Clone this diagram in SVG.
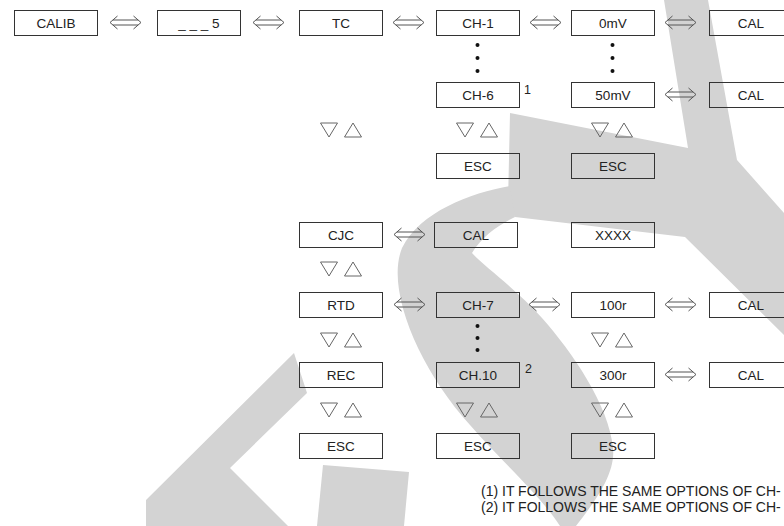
<svg xmlns="http://www.w3.org/2000/svg" xmlns:xlink="http://www.w3.org/1999/xlink" width="784" height="526" viewBox="0 0 784 526">
<style>
.box{fill:none;stroke:#333;stroke-width:1}
.t{font-family:"Liberation Sans",Arial,sans-serif;font-size:13.5px;fill:#222;text-anchor:middle}
.sup{font-family:"Liberation Sans",Arial,sans-serif;font-size:12.5px;fill:#222}
.note{font-family:"Liberation Sans",Arial,sans-serif;font-size:14px;fill:#222}
.arr{fill:none;stroke:#555;stroke-width:1}
.tri{fill:none;stroke:#666;stroke-width:1}
.dot{fill:#111}
.wm{fill:#d3d3d3}
</style>
<defs>
<path id="dbl" class="arr" d="M7.5,-6.5 L0,0 L7.5,6.5 M23.5,-6.5 L31,0 L23.5,6.5 M2.9,-2.5 H28.1 M2.9,2.5 H28.1"/>
<g id="ud"><path class="tri" d="M-20.5,0 H-3.5 L-12,14 Z M3.5,14 H20.5 L12,0 Z"/></g>
</defs>
<g id="watermark">
<path class="wm" d="M664,0 L708,0 L737,160 L784,213 L784,335 L685,237 L515,217 L508,203 L510,113 L688,148 Z"/>
<path class="wm" d="M510,186 C470,193 420,212 402,248 C385,290 420,370 470,425 C505,465 540,495 560,526 L576,526 C592,505 616,475 613,448 C609,405 572,352 542,318 C515,288 486,268 472,253 C482,236 500,224 515,217 Z"/>
<path class="wm" d="M146,526 L146,500 L294,353 L307,393 L230,468 L288,526 Z"/>
<path class="wm" d="M323,465 L409,472 L404,526 L317,526 Z"/>
</g>
<g id="connectors">
<use xlink:href="#dbl" transform="translate(110,22.5)"/>
<use xlink:href="#dbl" transform="translate(253,22.5)"/>
<use xlink:href="#dbl" transform="translate(393,22.5)"/>
<use xlink:href="#dbl" transform="translate(530,22.5)"/>
<use xlink:href="#dbl" transform="translate(665,22.5)"/>
<use xlink:href="#dbl" transform="translate(665,94.5)"/>
<use xlink:href="#dbl" transform="translate(394,234.5)"/>
<use xlink:href="#dbl" transform="translate(394,304.5)"/>
<use xlink:href="#dbl" transform="translate(529,304.5)"/>
<use xlink:href="#dbl" transform="translate(665,304.5)"/>
<use xlink:href="#dbl" transform="translate(665,374.5)"/>
<use xlink:href="#ud" transform="translate(341,123)"/>
<use xlink:href="#ud" transform="translate(477,123)"/>
<use xlink:href="#ud" transform="translate(612,123)"/>
<use xlink:href="#ud" transform="translate(341,262)"/>
<use xlink:href="#ud" transform="translate(341,333)"/>
<use xlink:href="#ud" transform="translate(612,333)"/>
<use xlink:href="#ud" transform="translate(341,403)"/>
<use xlink:href="#ud" transform="translate(477,403)"/>
<use xlink:href="#ud" transform="translate(612,403)"/>
<circle class="dot" cx="477.5" cy="45" r="2"/><circle class="dot" cx="477.5" cy="58" r="2"/><circle class="dot" cx="477.5" cy="71" r="2"/>
<circle class="dot" cx="612.5" cy="45" r="2"/><circle class="dot" cx="612.5" cy="58" r="2"/><circle class="dot" cx="612.5" cy="71" r="2"/>
<circle class="dot" cx="477.5" cy="326" r="2"/><circle class="dot" cx="477.5" cy="338" r="2"/><circle class="dot" cx="477.5" cy="350" r="2"/>
</g>
<g id="n_calib"><rect class="box" x="14.5" y="10.5" width="83" height="25"/><text class="t" x="56" y="28">CALIB</text></g>
<g id="n_5"><rect class="box" x="157.5" y="10.5" width="83" height="25"/><text class="t" x="199" y="28">_ _ _ 5</text></g>
<g id="n_tc"><rect class="box" x="299.5" y="10.5" width="83" height="25"/><text class="t" x="341" y="28">TC</text></g>
<g id="n_ch1"><rect class="box" x="436.5" y="10.5" width="83" height="25"/><text class="t" x="478" y="28">CH-1</text></g>
<g id="n_0mv"><rect class="box" x="571.5" y="10.5" width="83" height="25"/><text class="t" x="613" y="28">0mV</text></g>
<g id="n_cal1"><rect class="box" x="709.5" y="10.5" width="83" height="25"/><text class="t" x="751" y="28">CAL</text></g>
<g id="n_ch6"><rect class="box" x="436.5" y="82.5" width="83" height="25"/><text class="t" x="478" y="100">CH-6</text><text class="sup" x="524" y="94">1</text></g>
<g id="n_50mv"><rect class="box" x="571.5" y="82.5" width="83" height="25"/><text class="t" x="613" y="100">50mV</text></g>
<g id="n_cal2"><rect class="box" x="709.5" y="82.5" width="83" height="25"/><text class="t" x="751" y="100">CAL</text></g>
<g id="n_esc1"><rect class="box" x="436.5" y="153.5" width="83" height="25"/><text class="t" x="478" y="171">ESC</text></g>
<g id="n_esc2"><rect class="box" x="571.5" y="153.5" width="83" height="25"/><text class="t" x="613" y="171">ESC</text></g>
<g id="n_cjc"><rect class="box" x="299.5" y="222.5" width="83" height="25"/><text class="t" x="341" y="240">CJC</text></g>
<g id="n_cal3"><rect class="box" x="434.5" y="222.5" width="83" height="25"/><text class="t" x="476" y="240">CAL</text></g>
<g id="n_xxxx"><rect class="box" x="571.5" y="222.5" width="83" height="25"/><text class="t" x="613" y="240">XXXX</text></g>
<g id="n_rtd"><rect class="box" x="299.5" y="292.5" width="83" height="25"/><text class="t" x="341" y="310">RTD</text></g>
<g id="n_ch7"><rect class="box" x="436.5" y="292.5" width="83" height="25"/><text class="t" x="478" y="310">CH-7</text></g>
<g id="n_100r"><rect class="box" x="571.5" y="292.5" width="83" height="25"/><text class="t" x="613" y="310">100r</text></g>
<g id="n_cal4"><rect class="box" x="709.5" y="292.5" width="83" height="25"/><text class="t" x="751" y="310">CAL</text></g>
<g id="n_rec"><rect class="box" x="299.5" y="362.5" width="83" height="25"/><text class="t" x="341" y="380">REC</text></g>
<g id="n_ch10"><rect class="box" x="436.5" y="362.5" width="83" height="25"/><text class="t" x="478" y="380">CH.10</text><text class="sup" x="525" y="373">2</text></g>
<g id="n_300r"><rect class="box" x="571.5" y="362.5" width="83" height="25"/><text class="t" x="613" y="380">300r</text></g>
<g id="n_cal5"><rect class="box" x="709.5" y="362.5" width="83" height="25"/><text class="t" x="751" y="380">CAL</text></g>
<g id="n_esc3"><rect class="box" x="299.5" y="433.5" width="83" height="25"/><text class="t" x="341" y="451">ESC</text></g>
<g id="n_esc4"><rect class="box" x="436.5" y="433.5" width="83" height="25"/><text class="t" x="478" y="451">ESC</text></g>
<g id="n_esc5"><rect class="box" x="571.5" y="433.5" width="83" height="25"/><text class="t" x="613" y="451">ESC</text></g>
<g id="notes">
<text class="note" x="481" y="496">(1) IT FOLLOWS THE SAME OPTIONS OF CH-</text>
<text class="note" x="481" y="512">(2) IT FOLLOWS THE SAME OPTIONS OF CH-</text>
</g>
</svg>
